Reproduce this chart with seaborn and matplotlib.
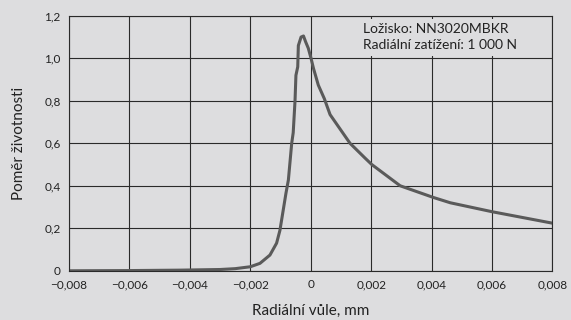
import pandas as pd
import seaborn as sns
import numpy as np
import matplotlib.pyplot as plt

# radial clearance (mm) vs. life ratio
clearance = [-0.008, -0.006, -0.00433, -0.003, -0.0025, -0.002, -0.00168, -0.00135,
             -0.00113, -0.00102, -0.00091, -0.00082, -0.00074, -0.00063, -0.00058,
             -0.00052, -0.00049, -0.00043, -0.00041, -0.00032, -0.00024, -0.00017,
             -0.00008, 0.00001, 0.00009, 0.00025, 0.00045, 0.00064, 0.00086, 0.0013,
             0.0018, 0.00202, 0.00296, 0.00406, 0.00462, 0.006, 0.008]
life_ratio = [0.0, 0.001, 0.003, 0.006, 0.01, 0.019, 0.035, 0.074,
              0.13, 0.19, 0.286, 0.365, 0.427, 0.60, 0.65,
              0.80, 0.92, 0.96, 1.06, 1.10, 1.105, 1.078,
              1.047, 1.0, 0.953, 0.874, 0.81, 0.735, 0.69, 0.60,
              0.53, 0.50, 0.40, 0.345, 0.32, 0.278, 0.224]

x_ticks = [-0.008, -0.006, -0.004, -0.002, 0, 0.002, 0.004, 0.006, 0.008]
x_labels = ['\u22120,008', '\u22120,006', '\u22120,004', '\u22120,002', '0',
            '0,002', '0,004', '0,006', '0,008']
y_ticks = [0, 0.2, 0.4, 0.6, 0.8, 1.0, 1.2]
y_labels = ['0', '0,2', '0,4', '0,6', '0,8', '1,0', '1,2']
note = 'Ložisko: NN3020MBKR\nRadiální zatížení: 1 000 N'

bg = '#dddddf'
sns.set_style('white', {'axes.facecolor': bg, 'figure.facecolor': bg})
plt.rcParams['font.family'] = ['Lato', 'DejaVu Sans']

d = pd.DataFrame({'x': clearance, 'y': life_ratio})

fig = plt.figure(figsize=(5.71, 3.2), dpi=100)
ax = fig.add_axes([0.1208, 0.1538, 0.8468, 0.7968])

sns.lineplot(ax=ax, data=d, x='x', y='y', estimator=None, sort=False,
             color='#5a5a5a', linewidth=2.2, zorder=3,
             solid_joinstyle='round', solid_capstyle='round')

ax.set_xlim(-0.008, 0.008)
ax.set_ylim(0, 1.2)
ax.set_xticks(x_ticks, x_labels)
ax.set_yticks(y_ticks, y_labels)
ax.grid(True, color='#2a2a2a', linewidth=0.8)
ax.tick_params(length=0, labelsize=8.5, colors='#222222', pad=6)
for s in ax.spines.values():
    s.set_color('#2a2a2a')
    s.set_linewidth(0.8)
    s.set_zorder(5)

ax.set_xlabel('Radiální vůle, mm', fontsize=11, color='#222222', labelpad=10)
ax.set_ylabel('Poměr životnosti', fontsize=11, color='#222222', labelpad=13)

# note box hides the grid behind it, like in the original
ax.text(0.00174, 1.098, note, fontsize=10, color='#222222', va='center', ha='left',
        linespacing=1.4, zorder=4,
        bbox=dict(boxstyle='square,pad=0.3', facecolor=bg, edgecolor='none'))

fig.savefig('out.png', dpi=100, facecolor=bg)
